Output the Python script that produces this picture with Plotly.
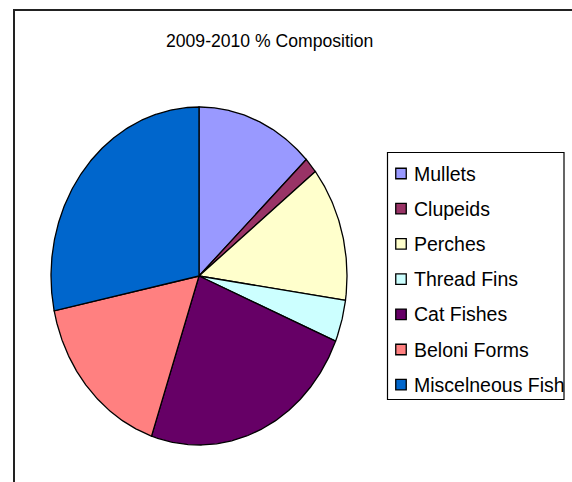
import numpy as np
import plotly.graph_objects as go

# 2009-2010 catch composition (%)
categories = ["Mullets", "Clupeids", "Perches", "Thread Fins",
              "Cat Fishes", "Beloni Forms", "Miscelneous Fish"]
shares = [12.9, 1.5, 12.9, 4.0, 23.9, 16.5, 28.3]
colors = ["#9999FF", "#993366", "#FFFFCC", "#CCFFFF",
          "#660066", "#FF8080", "#0066CC"]
title_text = "2009-2010 % Composition"

W, H = 572, 482
# pie geometry in pixel units (axes map 1 unit -> 1 px)
cx, cy, rx, ry = 199, 276, 148, 169

fig = go.Figure()

total = sum(shares)
start = 0.0
for name, val, col in zip(categories, shares, colors):
    span = 360.0 * val / total
    t = np.radians(np.linspace(start, start + span, max(int(span * 2), 2) + 1))
    xs = np.concatenate([[cx], cx + rx * np.sin(t), [cx]])
    ys = np.concatenate([[cy], cy - ry * np.cos(t), [cy]])
    fig.add_trace(go.Scatter(
        x=xs, y=ys, mode="lines", fill="toself", fillcolor=col,
        line=dict(color="black", width=1.3), name=name,
        showlegend=False, hoverinfo="name"))
    start += span

# legend: swatches + labels inside a framed box
leg_x, leg_y0, leg_dy = 401, 173.5, 35.2
leg_ys = [leg_y0 + i * leg_dy for i in range(len(categories))]
fig.add_trace(go.Scatter(
    x=[leg_x] * len(categories), y=leg_ys, mode="markers",
    marker=dict(symbol="square", size=10.5, color=colors,
                line=dict(color="black", width=1.3)),
    showlegend=False, hoverinfo="skip"))
for name, y in zip(categories, leg_ys):
    fig.add_annotation(x=411.5, y=y, text=name, showarrow=False,
                       xanchor="left", yanchor="middle",
                       font=dict(family="Liberation Sans, Arial", size=19.5, color="black"))

fig.add_annotation(x=269, y=41, text=title_text, showarrow=False,
                   xanchor="center", yanchor="middle",
                   font=dict(family="Liberation Sans, Arial", size=17.6, color="black"))

# chart frame and legend frame
fig.add_shape(type="rect", x0=14, y0=10, x1=W + 20, y1=H + 20,
              line=dict(color="#222222", width=2), fillcolor="rgba(0,0,0,0)", layer="below")
fig.add_shape(type="rect", x0=387.5, y0=152.5, x1=564, y1=399.5,
              line=dict(color="black", width=1.2), fillcolor="rgba(0,0,0,0)")

fig.update_layout(
    width=W, height=H, margin=dict(l=0, r=0, t=0, b=0),
    paper_bgcolor="white", plot_bgcolor="white",
    xaxis=dict(range=[0, W], visible=False, fixedrange=True),
    yaxis=dict(range=[H, 0], visible=False, fixedrange=True),
    showlegend=False,
)

fig.write_html("out.html")
